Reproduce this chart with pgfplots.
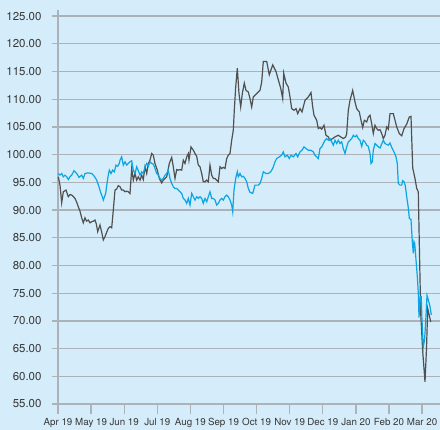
\documentclass[border=0pt]{standalone}
\usepackage{fontspec}
\setmainfont{TeX Gyre Heros}
\usepackage{pgfplots}
\pgfplotsset{compat=1.18}
\definecolor{bgc}{RGB}{213,237,250}
\definecolor{gridc}{RGB}{172,178,184}
\definecolor{darkl}{RGB}{80,80,80}
\definecolor{cyanl}{RGB}{10,165,226}
\definecolor{textc}{RGB}{55,55,55}
\begin{document}
\begin{tikzpicture}
\fill[bgc, use as bounding box] (-58bp,-26bp) rectangle (382bp,404bp);
\begin{axis}[
  at={(0,0)}, anchor=south west,
  scale only axis, width=382bp, height=394bp,
  xmin=58, xmax=440, ymin=55, ymax=126.1,
  axis x line*=bottom, axis y line*=left,
  axis line style={draw=gridc, line width=1.5bp},
  xtick={58,91.1,124.2,157.3,190.4,223.5,256.6,289.7,322.8,355.9,389,422.1},
  xticklabels={Apr 19,May 19,Jun 19,Jul 19,Aug 19,Sep 19,Oct 19,Nov 19,Dec 19,Jan 20,Feb 20,Mar 20},
  ytick={55,60,...,125},
  tick align=outside, major tick length=10bp,
  xtick style={draw=gridc, line width=1.3bp},
  ytick style={draw=gridc, line width=1.3bp, dash pattern=on 0bp off 4bp on 6bp off 10bp},
  ymajorgrids, grid style={draw=gridc, line width=1.3bp},
  /pgf/number format/assume math mode=true,
  yticklabel={\pgfmathprintnumber[fixed,fixed zerofill,precision=2]{\tick}},
  yticklabel style={font=\fontsize{11.5}{12}\selectfont, text=textc, xshift=-3bp},
  xticklabel style={font=\fontsize{9.8}{10}\selectfont, text=textc, yshift=-1bp},
  clip=false,
]
\addplot[darkl, line width=1.2bp] coordinates {
(58.3,96.0)(60,94.5)(61.7,91.3)(63.3,93.3)(66,93.6)(68.3,92.4)(70,92.8)(71.7,92.7)(73,92.5)(75,92.1)(76.5,91.5)(78.3,90.6)(80,89.8)(81.7,88.6)(83.3,87.7)(85,88.6)(86.5,88.0)(88.3,88.2)(90,87.7)(91.7,87.9)(93.5,88.0)(95,88.2)(96.3,87.5)(97.7,86.1)(100,87.3)(101.7,86.0)(103.3,84.6)(105,85.2)(106.7,86.0)(108.3,86.7)(110,87.0)(111.7,86.8)(113.3,90.0)(115,93.6)(116.7,93.8)(118.3,94.4)(120,94.2)(121.7,93.6)(123.3,93.6)(125,93.3)(126.7,93.4)(128.3,93.3)(130,93.0)(131.7,97.5)(133.3,95.4)(135,96.6)(136.7,95.4)(138.3,96.0)(140,95.4)(141.7,96.3)(143.3,95.5)(145,97.8)(146.7,96.6)(148.3,98.4)(150,99.0)(151.7,100.2)(153.3,99.9)(155,98.4)(157.3,97.2)(159.3,95.7)(161.7,94.9)(163.3,95.4)(166.7,96.0)(169.3,98.4)(171.7,99.5)(173.3,97.8)(175,95.7)(176.7,97.3)(178.3,97.2)(180,97.3)(181.7,97.2)(183.3,99.0)(185,98.4)(186.7,99.6)(188.3,100.2)(189,99.0)(191,101.4)(193.3,100.8)(195,100.2)(196.7,99.7)(198.3,98.1)(200,97.8)(201.7,96.6)(203.3,95.1)(205,95.1)(206.7,95.4)(208.3,95.1)(210,98.1)(211.7,96.3)(213.3,95.7)(215,95.7)(216.7,95.4)(218.3,95.1)(220,97.8)(221.7,97.5)(223.3,97.7)(225,97.5)(226.7,99.3)(228.3,99.9)(230,100.2)(231.7,102.6)(233.3,104.4)(234.3,108.0)(235.7,112.2)(237.3,115.6)(239,111.0)(240.7,108.6)(242.3,111.0)(244.3,112.9)(246,111.6)(248.3,111.3)(250,110.1)(251.7,108.6)(253.3,110.4)(255,110.7)(258.3,111.3)(260,111.6)(261.7,113.1)(263.3,116.8)(266.7,116.8)(269.3,114.4)(272.7,116.2)(276,115.0)(278.3,113.5)(280.7,112.0)(282.7,110.1)(283.7,114.7)(286,112.9)(288.3,112.2)(290,110.4)(291.7,108.3)(294,108.0)(296,108.3)(297.7,107.4)(300,108.3)(302,107.7)(303.3,108.6)(305,109.8)(308.3,110.4)(311,111.2)(312.7,108.6)(314,107.1)(316.7,106.2)(318.3,104.7)(320,104.9)(321.7,104.6)(324,105.3)(326,103.5)(328.3,103.2)(330,102.6)(332.7,102.9)(335,103.2)(338.3,103.5)(340.7,103.2)(343.3,102.9)(345.7,103.2)(346.7,103.8)(348.3,108.0)(350,109.8)(352.7,111.6)(355,109.5)(356.7,108.3)(359.3,107.7)(361,106.2)(362.7,104.9)(364.3,106.2)(366.7,105.9)(368.3,106.8)(370,107.1)(371.7,105.6)(373.3,103.8)(375,105.3)(376.7,104.7)(378.3,104.4)(380,104.5)(381.7,103.8)(383.3,102.9)(385,103.5)(386.7,105.0)(388.3,104.6)(390,107.4)(393.3,107.4)(395,106.2)(396.7,105.0)(399.3,103.8)(401.7,103.4)(404,104.7)(406.7,105.5)(409.3,106.8)(411,106.9)(412.7,97.6)(415,95.7)(416.7,93.9)(418.3,93.3)(419.3,84.0)(420.7,71.4)(422.7,64.5)(425,59.0)(426.5,65.0)(427.7,72.2)(429.3,71.0)(430.7,69.8)
};
\addplot[cyanl, line width=1.2bp] coordinates {
(58.3,96.6)(60,96.3)(61.7,96.6)(63.3,96.0)(65,96.3)(66.7,96.0)(68.3,95.5)(70,96.0)(71.7,96.3)(74,97.1)(76.7,96.6)(79,95.9)(81.7,96.3)(83.3,95.7)(85,96.6)(88.3,96.7)(91.7,96.6)(94.3,96.1)(96.7,95.4)(99,94.2)(101,93.0)(102.3,92.4)(103.3,91.8)(104.3,92.3)(105.7,93.0)(107,94.8)(108.3,96.3)(109.3,97.2)(111,96.6)(112.7,97.2)(114.3,96.9)(116,98.1)(117.7,97.9)(119.3,98.4)(120,99.0)(121.7,99.6)(123.3,98.1)(125,98.7)(126.7,98.1)(128.3,98.4)(130,98.7)(131.7,98.9)(133.3,97.2)(135,96.6)(136.7,97.8)(138.3,97.1)(140,96.3)(141.7,96.9)(143.3,96.6)(145,97.8)(146.7,98.4)(148.3,97.9)(150,98.7)(151.7,98.4)(153.3,98.3)(155,97.5)(156.7,96.6)(158.3,96.3)(160,95.7)(161.7,95.4)(163.3,95.7)(165,96.3)(166.7,96.6)(168.3,97.2)(170,95.7)(171.7,94.8)(173.3,94.2)(175,93.9)(176.7,93.9)(178.3,93.6)(180,93.3)(181.7,93.0)(183.3,92.1)(185,91.8)(186.7,91.2)(188.3,92.1)(190,90.9)(191.7,93.0)(193.3,92.4)(195,91.8)(196.7,92.4)(198.3,92.1)(200,92.4)(201.7,92.1)(203.3,91.2)(205,92.1)(206.7,91.5)(208.3,92.4)(210,93.3)(211.7,92.1)(213.3,92.1)(215,91.8)(216.7,90.9)(218.3,91.2)(220,91.8)(221.7,92.1)(223.3,91.8)(225,92.4)(226.7,92.7)(228.3,92.4)(230,91.8)(231.7,90.9)(232.7,89.7)(234,93.6)(235.7,95.7)(237.3,96.9)(238.3,96.0)(240,96.6)(241.7,96.0)(243.3,96.1)(245,95.7)(246.7,95.1)(248.3,93.9)(250,93.2)(252.7,93.0)(255,94.5)(258.3,94.5)(260,94.8)(261.7,95.7)(263.3,96.9)(266,96.6)(268.3,96.6)(270.7,96.9)(272.7,97.5)(275,98.7)(276.7,99.3)(279.3,99.6)(281.7,99.9)(283.3,100.5)(285,99.6)(287.3,99.9)(289.3,99.3)(291,99.9)(293.3,99.6)(296,100.2)(297.7,99.6)(300,100.5)(302,100.8)(304,101.4)(306,101.1)(308.3,100.8)(310.7,100.8)(313.3,100.5)(315,99.9)(316.7,99.6)(318.3,99.3)(320,101.1)(321.7,101.4)(323.3,102.0)(325,102.6)(326.7,102.9)(328.3,102.6)(330,102.9)(331.7,102.3)(333.3,101.7)(335,102.6)(336.7,102.0)(338.3,102.6)(340,102.0)(341.7,102.3)(343.3,101.1)(345,100.2)(346.7,101.4)(348.3,102.3)(350,102.6)(351.7,102.9)(353.3,103.5)(355,103.2)(356.7,103.5)(358.3,102.9)(360,102.6)(361.7,101.5)(363.3,102.6)(365,102.3)(366.7,101.7)(368.3,101.5)(370,100.2)(371,98.4)(372.3,98.7)(373.3,100.8)(375,102.0)(376.7,101.7)(378.3,101.4)(380,101.2)(381.7,101.9)(383.3,102.6)(385,102.0)(388.3,101.7)(390,102.1)(391.7,101.3)(394,100.5)(396,99.6)(397.3,98.4)(398.3,94.8)(400,94.5)(401.7,94.5)(402.7,95.3)(404,95.1)(405.3,94.4)(406.7,92.4)(408.3,90.4)(409.3,88.5)(411,88.3)(412.3,84.3)(413.3,82.2)(414,84.3)(414.7,84.0)(416,81.0)(417.3,78.0)(418.3,75.0)(419,70.6)(420.2,74.4)(421.2,74.4)(421.9,70.5)(423.3,65.3)(424.5,66.5)(425.2,68.4)(426.3,72.0)(427,74.6)(428.3,73.8)(430,72.6)(431.3,71.1)
};
\end{axis}
\end{tikzpicture}
\end{document}
